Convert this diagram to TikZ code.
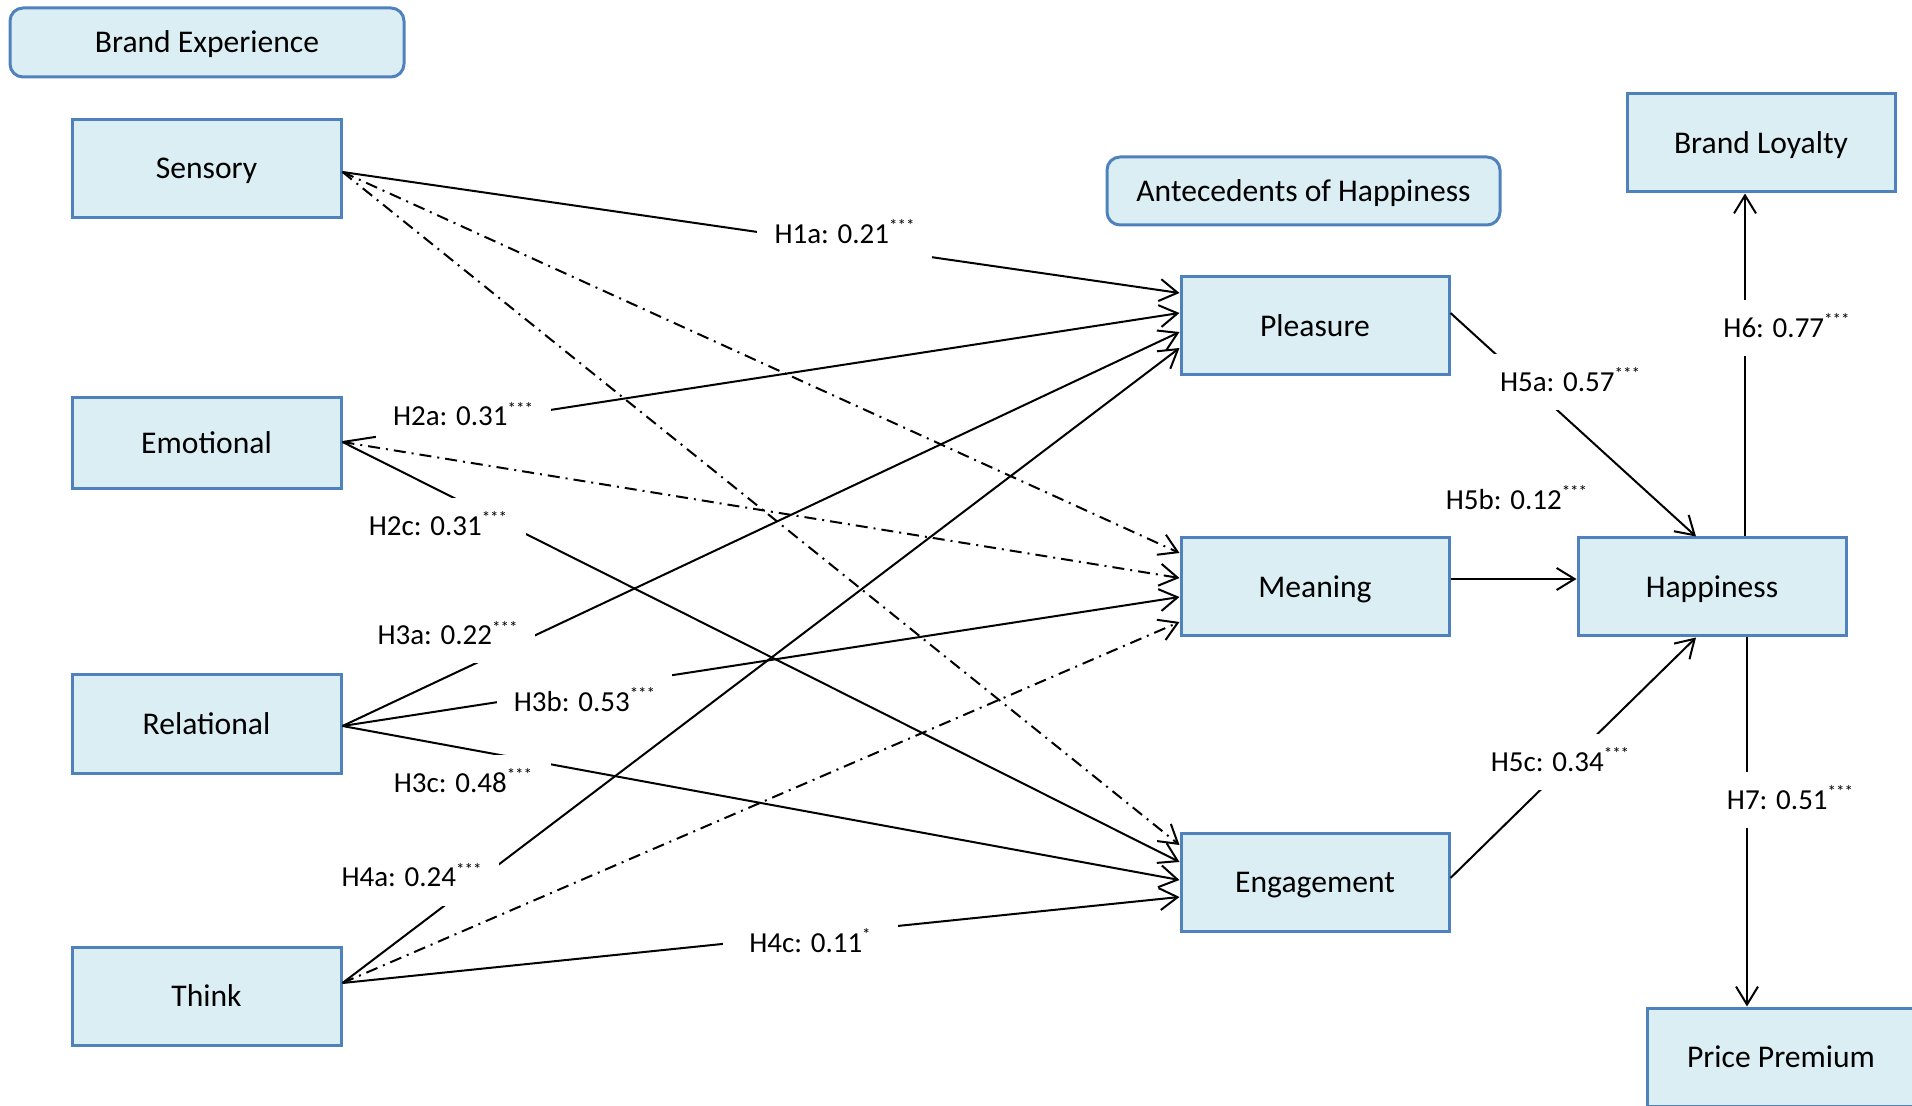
\documentclass[tikz,border=0pt]{standalone}
\usepackage{fontspec}
\setmainfont{Carlito}
\usetikzlibrary{arrows.meta,calc}
\definecolor{boxfill}{HTML}{DBEEF4}
\definecolor{boxline}{HTML}{4F81BD}
\newcommand\sigstar[1]{\raisebox{5.8pt}{\fontsize{8.5}{8.5}\selectfont #1}}
\begin{document}
\begin{tikzpicture}[x=0.5pt,y=-0.5pt,
  every node/.style={font=\fontsize{15.8}{19}\selectfont},
  box/.style={draw=boxline,fill=boxfill,line width=1.5pt,inner sep=0pt,minimum width=134.5pt,minimum height=49pt,text height=10.3pt,text depth=0pt},
  hdr/.style={box,rounded corners=6.5pt,minimum width=197pt,minimum height=34.5pt},
  conn/.style={line width=1pt,-{Straight Barb[length=9pt,width=11pt]}},
  dd/.style={conn,dash pattern=on 6pt off 3pt on 1pt off 3pt},
  lbl/.style={fill=white,inner sep=0pt,minimum width=87.5pt,minimum height=28pt,text height=9.2pt,text depth=0pt,font=\fontsize{14.5}{17}\selectfont},
]
\path[use as bounding box,clip] (0,0) rectangle (1912,1106);

% boxes
\node[hdr] (bexp) at (207,42.5) {Brand Experience};
\node[hdr,minimum width=196.5pt,minimum height=34pt] (antec) at (1303.5,191) {Antecedents of Happiness};
\node[box] (sens) at (206.5,168.5) {Sensory};
\node[box,minimum height=45.5pt] (emo) at (206.5,443.5) {Emotional};
\node[box] (rel) at (206.5,724) {Relational};
\node[box] (think) at (206.5,996) {Think};
\node[box,minimum width=134pt] (pleas) at (1315,326) {Pleasure};
\node[box,minimum width=134pt] (mean) at (1315,587) {Meaning};
\node[box,minimum width=134pt] (eng) at (1315,882) {Engagement};
\node[box,minimum width=134pt] (happy) at (1712,587) {Happiness};
\node[box,minimum width=134pt] (loyal) at (1761,143) {Brand Loyalty};
\node[box,minimum width=134pt] (price) at (1781,1057) {Price Premium};

% connector end points
\coordinate (s0) at ($(sens.east)+(0,3.5)$);
\coordinate (e0) at ($(emo.east)+(0,-1.5)$);
\coordinate (r0) at ($(rel.east)+(0,2)$);
\coordinate (t0) at ($(think.east)+(0,-13)$);
\coordinate (p1) at ($(pleas.west)+(0,-33)$);
\coordinate (p2) at ($(pleas.west)+(0,-13)$);
\coordinate (p3) at ($(pleas.west)+(0,6)$);
\coordinate (p4) at ($(pleas.west)+(0,22)$);
\coordinate (m1) at ($(mean.west)+(0,-34)$);
\coordinate (m2) at ($(mean.west)+(0,-9)$);
\coordinate (m3) at ($(mean.west)+(0,10)$);
\coordinate (m4) at ($(mean.west)+(0,35)$);
\coordinate (g1) at ($(eng.west)+(0,-37)$);
\coordinate (g2) at ($(eng.west)+(0,-20)$);
\coordinate (g3) at ($(eng.west)+(0,-2)$);
\coordinate (g4) at ($(eng.west)+(0,15)$);

% connectors
\draw[conn] (s0) -- (p1);
\draw[dd] (s0) -- (m1);
\draw[dd] (s0) -- (g1);
\draw[conn] (e0) -- (p2);
\draw[dd] (e0) -- (m2);
\draw[conn] (e0) -- (g2);
\draw[conn] (r0) -- (p3);
\draw[conn] (r0) -- (m3);
\draw[conn] (r0) -- (g3);
\draw[conn] (t0) -- (p4);
\draw[dd] (t0) -- (m4);
\draw[conn] (t0) -- (g4);

\coordinate (pout) at ($(pleas.east)+(0,-13)$);
\coordinate (hin1) at ($(happy.north)+(-16,0)$);
\draw[conn] (pout) -- (hin1);
\draw[conn] ($(mean.east)+(0,-8)$) -- ($(happy.west)+(0,-8)$);
\coordinate (gout) at ($(eng.east)+(0,-4)$);
\coordinate (hin3) at ($(happy.south)+(-16,0)$);
\draw[conn] (gout) -- (hin3);
\coordinate (hup) at ($(happy.north)+(33,0)$);
\draw[conn] (hup) -- (hup |- loyal.south);
\coordinate (hdn) at ($(happy.south)+(35,0)$);
\draw[conn] (hdn) -- (hdn |- price.north);

% labels
\node[lbl] (l1a) at (844.5,234) {H1a: 0.21\sigstar{***}};
\node[lbl] (l2a) at (463,416.5) {H2a: 0.31\sigstar{***}};
\node[lbl] (l2c) at (438,526) {H2c: 0.31\sigstar{***}};
\node[lbl] (l3a) at (447.5,635.5) {H3a: 0.22\sigstar{***}};
\node[lbl] (l3b) at (584.5,702) {H3b: 0.53\sigstar{***}};
\node[lbl] (l3c) at (463,783) {H3c: 0.48\sigstar{***}};
\node[lbl] (l4a) at (411.5,877.5) {H4a: 0.24\sigstar{***}};
\node[lbl] (l4c) at (810,943) {H4c: 0.11\sigstar{*}};
\node[lbl] (l5a) at (1570,382) {H5a: 0.57\sigstar{***}};
\node[lbl,fill=none] (l5b) at (1516.5,500) {H5b: 0.12\sigstar{***}};
\node[lbl] (l5c) at (1560,762) {H5c: 0.34\sigstar{***}};
\node[lbl] (l6) at (1786.5,328) {H6: 0.77\sigstar{***}};
\node[lbl] (l7) at (1790,800) {H7: 0.51\sigstar{***}};
\end{tikzpicture}
\end{document}
